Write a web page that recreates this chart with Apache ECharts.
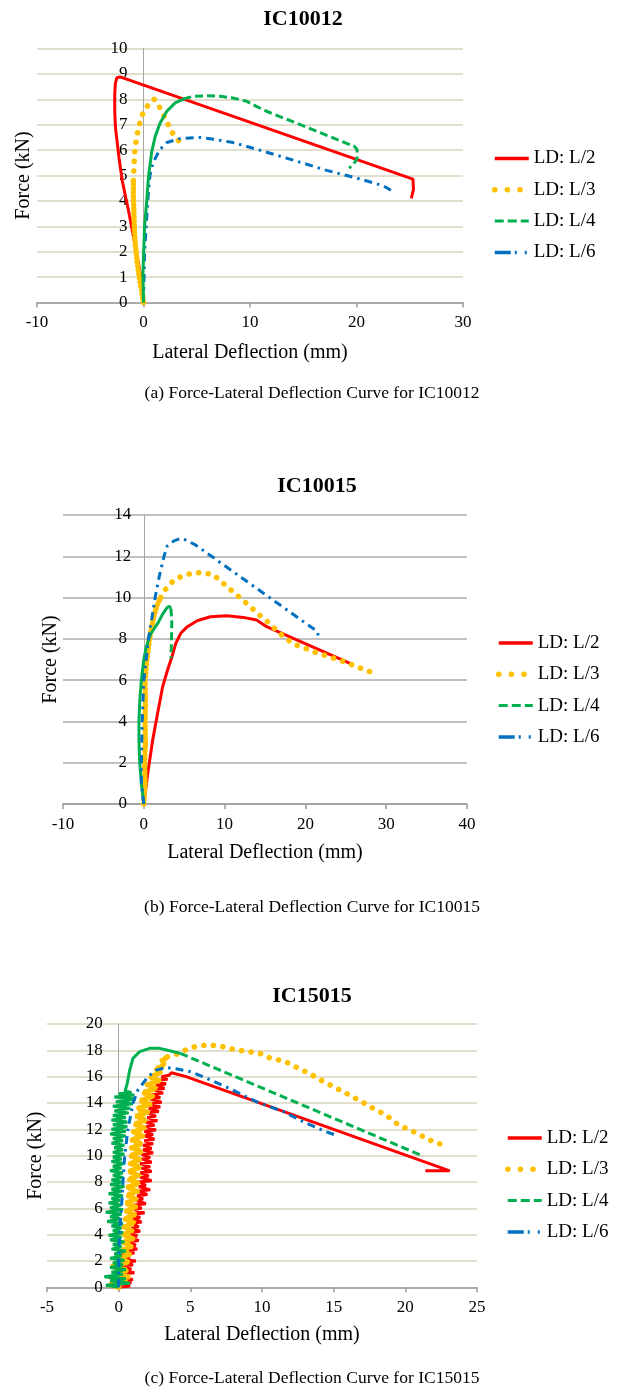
<!DOCTYPE html>
<html>
<head>
<meta charset="utf-8">
<script src="https://cdn.jsdelivr.net/npm/echarts@6/dist/echarts.min.js"></script>
<style>
  html, body { margin: 0; padding: 0; background: #fff; }
  #chart { width: 617px; height: 1387px; }
</style>
</head>
<body>
<div id="chart"></div>
<script>
// ---- labels ----
const SERIES_NAMES = ['LD: L/2', 'LD: L/3', 'LD: L/4', 'LD: L/6'];
const TITLES = ['IC10012', 'IC10015', 'IC15015'];
const CAPTIONS = [
  '(a) Force-Lateral Deflection Curve for IC10012',
  '(b) Force-Lateral Deflection Curve for IC10015',
  '(c) Force-Lateral Deflection Curve for IC15015'
];
const X_NAME = 'Lateral Deflection (mm)';
const Y_NAME = 'Force (kN)';

// ---- tick labels ----
const X_TICKS_A = [-10, 0, 10, 20, 30];
const Y_TICKS_A = [0, 1, 2, 3, 4, 5, 6, 7, 8, 9, 10];
const X_TICKS_B = [-10, 0, 10, 20, 30, 40];
const Y_TICKS_B = [0, 2, 4, 6, 8, 10, 12, 14];
const X_TICKS_C = [-5, 0, 5, 10, 15, 20, 25];
const Y_TICKS_C = [0, 2, 4, 6, 8, 10, 12, 14, 16, 18, 20];

// ---- IC10012: [deflection mm, force kN] ----
const A_L2 = [[0,0],[-0.1,0.7],[-0.9,2.5],[-1.4,3.6],[-2.0,4.8],[-2.3,5.7],[-2.55,6.6],[-2.6,6.75],
  [-2.65,7.0],[-2.7,7.5],[-2.7,8.2],[-2.65,8.6],[-2.5,8.85],[-2.2,8.88],[25.3,4.86],[25.35,4.45],[25.15,4.1]];
const A_L3_DENSE = [[0,0],[-0.2,0.5],[-0.4,1.0],[-0.6,1.6],[-0.75,2.2],[-0.85,2.8],[-0.9,3.5],[-0.95,4.2],[-0.95,4.8]];
const A_L3 = [[-0.95,4.8],[-0.9,5.3],[-0.85,5.8],[-0.75,6.2],[-0.6,6.6],[-0.4,7.0],[-0.1,7.4],[0.4,7.75],
  [1.0,8.0],[1.5,7.7],[2.1,7.2],[2.6,6.75],[3.1,6.45],[3.45,6.3],[3.45,6.1]];
const A_L4_DENSE = [[0,0],[-0.05,1.15],[0.1,3.0],[0.31,4.04],[0.47,4.96],[0.78,5.95],[1.1,6.54],[1.56,7.07],
  [2.19,7.53],[2.97,7.86],[3.75,8.01]];
const A_L4 = [[3.75,8.01],[4.7,8.12],[5.94,8.14],[7.19,8.12],[8.4,8.05],[9.7,7.92],[10.6,7.72],[11.56,7.53],
  [19.84,6.14],[20.06,6.01],[20.06,5.68],[19.75,5.46],[19.3,5.29]];
const A_L6 = [[0,0],[0.05,1],[0.1,2],[0.25,3],[0.4,4],[0.6,5],[0.9,5.5],[1.5,6],[2.2,6.3],[3.4,6.45],
  [5.3,6.5],[6.25,6.45],[8.4,6.3],[10.9,6.0],[14.1,5.6],[17.2,5.2],[20,4.9],[22.5,4.6],[23.3,4.4]];

// ---- IC10015 ----
const B_L2 = [[0,0],[0.49,1.49],[1.1,3.1],[1.71,4.4],[2.33,5.68],[2.94,6.49],[3.43,7.06],[3.96,7.78],
  [4.57,8.27],[5.39,8.59],[6.6,8.88],[8.24,9.07],[10.3,9.12],[12.3,9.04],[13.96,8.91],[15.2,8.59],[25.6,6.8]];
const B_L3_DENSE = [[0,0],[0.15,1],[0.1,2],[0.2,3],[0.15,4],[0.2,5],[0.15,6],[0.4,7],[0.7,8],[1.2,9],[1.6,9.6],[2.1,10]];
const B_L3 = [[2.1,10],[2.7,10.4],[3.35,10.7],[4.2,10.95],[5.2,11.1],[6.2,11.2],[7.4,11.2],[8.6,11.1],
  [9.75,10.72],[10.9,10.33],[12.0,9.96],[13.1,9.59],[14.2,9.19],[15.3,8.83],[16.3,8.46],[17.4,8.07],
  [18.65,7.73],[20.0,7.54],[21.4,7.33],[22.7,7.17],[24.2,6.98],[25.6,6.77],[26.9,6.57],[28.2,6.38],[28.9,6.25]];
const B_L4_DENSE = [[0,0],[-0.3,1],[-0.5,2],[-0.6,3],[-0.6,4],[-0.5,5],[-0.3,6],[0,7],[0.3,7.6],[0.8,8.2],
  [1.3,8.5],[1.8,8.8],[2.33,9.2],[2.86,9.5],[3.14,9.59],[3.35,9.48]];
const B_L4 = [[3.35,9.48],[3.47,8.9],[3.43,7.94],[3.35,7.06]];
const B_L6 = [[0,0],[-0.3,1],[-0.3,2],[-0.25,3],[-0.2,4],[-0.1,5],[0,6],[0.3,7],[0.57,8],[1.0,9],[1.4,10],
  [1.9,11],[2.5,12],[2.9,12.5],[3.75,12.75],[4.57,12.87],[5.2,12.79],[6.4,12.55],[21.5,8.35],[21.6,8.1]];

// ---- IC15015 (noisy loading branch) ----
const C_L2 = [[0,0],[0.8,0.1],[-0.6,0.25],[0.9,0.35],[-0.2,0.5],[1.0,0.6],[-0.7,0.75],[0.7,0.85],[0.0,1.0],[1.1,1.1],
  [0.1,1.3],[0.9,1.4],[-0.5,1.6],[1.0,1.7],[0.4,1.9],[1.2,2.0],[-0.3,2.2],[0.8,2.3],[0.2,2.5],[1.1,2.6],
  [0.5,2.8],[1.3,2.9],[0.6,3.1],[1.2,3.2],[0.7,3.45],[1.4,3.55],[0.6,3.8],[1.3,3.9],[0.8,4.15],[1.5,4.25],
  [0.9,4.5],[1.4,4.6],[0.9,4.85],[1.6,4.95],[1.0,5.2],[1.5,5.3],[1.0,5.55],[1.8,5.65],[1.1,5.9],[1.6,6.0],
  [1.1,6.25],[1.9,6.35],[1.2,6.6],[1.7,6.7],[1.3,6.95],[2.0,7.05],[1.3,7.3],[2.2,7.4],[1.4,7.65],[1.9,7.75],
  [1.4,8.0],[2.3,8.1],[1.5,8.35],[2.1,8.45],[1.5,8.7],[2.3,8.8],[1.6,9.05],[2.2,9.15],[1.5,9.4],[2.3,9.5],
  [1.6,9.75],[2.2,9.85],[1.6,10.1],[2.4,10.2],[1.7,10.45],[2.3,10.55],[1.7,10.8],[2.4,10.9],[1.8,11.15],[2.5,11.25],
  [1.8,11.5],[2.4,11.6],[1.8,11.85],[2.6,11.95],[1.9,12.2],[2.5,12.3],[1.9,12.55],[2.7,12.65],[2.0,12.9],[2.6,13.0],
  [2.0,13.25],[2.8,13.35],[2.1,13.6],[2.9,13.7],[2.2,13.95],[3.0,14.05],[2.2,14.3],[2.9,14.4],[2.3,14.65],[3.1,14.75],
  [2.4,15.0],[3.2,15.1],[2.6,15.35],[3.3,15.45],[2.7,15.7],[3.4,15.8],[3.0,16.0],[3.5,16.1],
  [3.7,16.3],[4.7,16.0],[23.1,8.85],[21.4,8.85]];
const C_L3_DENSE = [[0,0],[-0.6,0.2],[0.5,0.4],[-0.4,0.6],[0.7,0.8],[-0.2,1.0],[0.6,1.3],[-0.5,1.6],[0.7,1.9],
  [0.0,2.2],[0.8,2.5],[0.2,2.8],[0.9,3.1],[0.3,3.4],[1.0,3.7],[0.3,4.0],[0.9,4.3],[0.4,4.6],[1.1,4.9],
  [0.4,5.2],[1.1,5.5],[0.5,5.8],[1.2,6.1],[0.5,6.4],[1.2,6.7],[0.6,7.0],[1.3,7.3],[0.6,7.6],[1.4,7.9],
  [0.7,8.2],[1.4,8.5],[0.7,8.8],[1.5,9.1],[0.8,9.4],[1.5,9.7],[0.8,10.0],[1.6,10.3],[0.9,10.6],[1.6,10.9],
  [0.9,11.2],[1.7,11.5],[1.0,11.8],[1.8,12.1],[1.1,12.4],[1.9,12.7],[1.2,13.0],[2.0,13.3],[1.3,13.6],[2.2,13.9],
  [1.5,14.2],[2.4,14.5],[1.7,14.8],[2.6,15.1],[2.0,15.4],[2.8,15.7],[2.2,16.0],[2.9,16.3],[2.6,16.6],[3.2,16.9],
  [3.0,17.2],[3.4,17.5]];
const C_L3 = [[3.4,17.5],[4.3,17.8],[4.8,18.1],[5.4,18.3],[6.1,18.4],[7.0,18.35],[7.7,18.15],[8.4,18.0],
  [9.1,17.9],[9.9,17.75],[10.7,17.35],[11.5,17.2],[11.9,17.0],[12.6,16.6],[13.3,16.25],[14.0,15.8],[14.7,15.4],
  [15.4,15.0],[16.1,14.6],[16.8,14.2],[17.5,13.75],[18.2,13.35],[18.8,12.95],[19.3,12.5],[20.0,12.1],
  [20.8,11.7],[21.5,11.3],[22.2,10.95],[22.6,10.85]];
const C_L4_DENSE = [[0,0],[-0.9,0.15],[0.8,0.3],[-0.6,0.5],[0.5,0.65],[-1.0,0.8],[0.3,1.0],[-0.5,1.15],[0.5,1.35],
  [-0.6,1.5],[0.3,1.7],[-0.4,1.85],[0.4,2.05],[-0.6,2.2],[0.2,2.4],[-0.3,2.55],[0.5,2.75],[-0.5,2.9],[0.2,3.1],
  [-0.4,3.25],[0.4,3.45],[-0.6,3.6],[0.2,3.8],[-0.7,3.95],[0.3,4.15],[-0.4,4.3],[0.2,4.5],[-0.5,4.65],[0.3,4.85],
  [-0.8,5.0],[0.1,5.2],[-0.6,5.35],[0.2,5.55],[-0.9,5.7],[0.3,5.9],[-0.6,6.05],[0.2,6.25],[-0.7,6.4],[0.1,6.6],
  [-0.5,6.75],[0.3,6.95],[-0.7,7.1],[0.2,7.3],[-0.5,7.45],[0.4,7.65],[-0.6,7.8],[0.2,8.0],[-0.5,8.15],[0.3,8.35],
  [-0.4,8.5],[0.3,8.7],[-0.6,8.85],[0.2,9.05],[-0.4,9.2],[0.4,9.4],[-0.5,9.55],[0.2,9.75],[-0.4,9.9],[0.4,10.1],
  [-0.4,10.25],[0.3,10.45],[-0.3,10.6],[0.4,10.8],[-0.5,10.95],[0.3,11.15],[-0.4,11.3],[0.5,11.5],[-0.6,11.65],
  [0.5,11.85],[-0.5,12.0],[0.6,12.2],[-0.4,12.35],[0.6,12.55],[-0.5,12.7],[0.5,12.9],[-0.4,13.05],[0.7,13.25],
  [-0.3,13.4],[0.8,13.6],[-0.4,13.75],[1.0,13.95],[-0.2,14.1],[1.2,14.3],[-0.3,14.45],[1.1,14.6],[0.0,14.7],
  [0.9,14.8],[0.45,14.9],[0.6,15.5],[0.77,16.5],[1.0,17.4],
  [1.47,17.9],[2.16,18.15],[2.86,18.15],[3.56,17.97],[4.3,17.77]];
const C_L4 = [[4.3,17.77],[21.1,10.03]];
const C_L6 = [[0,0],[0,2],[0.07,4],[0.19,6],[0.3,8],[0.42,10],[0.65,12],[1.0,14],[1.35,15],[2.05,16],
  [2.63,16.5],[3.33,16.7],[4.0,16.6],[5.0,16.38],[6.1,15.9],[7.74,15.1],[9.6,14.1],[11.5,13.34],[13.1,12.46],
  [14.5,11.8],[15.3,11.5]];

// ---- line styles ----
const RED = '#ff0000', YELLOW = '#ffc000', GREEN = '#00b050', BLUE = '#0070c0';
const ST_L2 = { color: RED, width: 3 };
const ST_L3 = { color: YELLOW, width: 5.5, type: [0.1, 9.5], cap: 'round' };
const ST_L3_DENSE = { color: YELLOW, width: 5.5, type: [0.1, 4], cap: 'round' };
const ST_L4 = { color: GREEN, width: 3, type: [8, 4] };
const ST_L4_DENSE = { color: GREEN, width: 3 };
const ST_L6 = { color: BLUE, width: 3, type: [8, 5, 2.5, 5] };

const LEGEND_STYLES = [
  { color: RED, width: 3.5 },
  { color: YELLOW, width: 5.5, type: [0.1, 12.5], cap: 'round' },
  { color: GREEN, width: 3, type: [9, 4] },
  { color: BLUE, width: 3.5, type: [16, 4, 2, 8, 2, 30] }
];

const FONT = 'Liberation Serif';

function line(name, data, g, style) {
  return {
    type: 'line', name, data, xAxisIndex: g, yAxisIndex: g,
    symbol: 'none', showSymbol: false, smooth: false,
    lineStyle: style, itemStyle: { color: style.color },
    emphasis: { disabled: true }, silent: true, animation: false
  };
}

// Plot areas and their axes (fixed boxes, no automatic fitting)
const GRIDS = [
  { left: 37, top: 48.5, width: 426, height: 254 },
  { left: 63, top: 515, width: 404, height: 289 },
  { left: 47, top: 1024, width: 430, height: 263.3 }
].map(g => Object.assign(g, { containLabel: false, outerBoundsMode: 'none' }));
const X_TICKS = [X_TICKS_A, X_TICKS_B, X_TICKS_C];
const Y_TICKS = [Y_TICKS_A, Y_TICKS_B, Y_TICKS_C];
const GRID_COLORS = ['#d9d4bd', '#ababab', '#d9d4bd'];
const Y_NAME_GAP = [110, 83, 73];
const X_NAME_GAP = [40, 38.5, 37];
const Y_LABEL = [
  { margin: 16, align: 'right' },
  { margin: 21, align: 'center' },
  { margin: 16, align: 'right' }
];

const xAxis = X_TICKS.map((t, i) => ({
  type: 'value', gridIndex: i,
  min: t[0], max: t[t.length - 1], interval: t[1] - t[0],
  name: X_NAME, nameLocation: 'middle', nameGap: X_NAME_GAP[i],
  nameTextStyle: { fontFamily: FONT, fontSize: 20, color: '#000' },
  axisLine: { show: true, onZero: false, lineStyle: { color: '#9a9a9a', width: 1.5 } },
  axisTick: { show: true, length: 5, lineStyle: { color: '#9a9a9a', width: 1.5 } },
  axisLabel: { fontFamily: FONT, fontSize: 17, color: '#000', margin: 12 },
  splitLine: { show: false }
}));

// the vertical axis sits on deflection = 0: shift it right from the grid edge
const yAxis = Y_TICKS.map((t, i) => {
  const xt = X_TICKS[i];
  const zeroShift = GRIDS[i].width * (0 - xt[0]) / (xt[xt.length - 1] - xt[0]);
  return {
    type: 'value', gridIndex: i, position: 'left', offset: -zeroShift,
    min: t[0], max: t[t.length - 1], interval: t[1] - t[0],
    name: Y_NAME, nameLocation: 'middle', nameGap: Y_NAME_GAP[i],
    nameTextStyle: { fontFamily: FONT, fontSize: 20, color: '#000' },
    axisLine: { show: true, onZero: false, lineStyle: { color: '#a6a6a6', width: 1 } },
    axisTick: { show: false },
    axisLabel: { fontFamily: FONT, fontSize: 17, color: '#000', margin: Y_LABEL[i].margin, align: Y_LABEL[i].align },
    splitLine: { show: true, lineStyle: { color: GRID_COLORS[i], width: 1.5 } }
  };
});

const series = [
  line(SERIES_NAMES[0], A_L2, 0, ST_L2),
  line(SERIES_NAMES[1], A_L3, 0, ST_L3),
  line(SERIES_NAMES[2], A_L4, 0, ST_L4),
  line(SERIES_NAMES[3], A_L6, 0, ST_L6),
  line(SERIES_NAMES[1], A_L3_DENSE, 0, ST_L3_DENSE),
  line(SERIES_NAMES[2], A_L4_DENSE, 0, ST_L4_DENSE),

  line(SERIES_NAMES[0], B_L2, 1, ST_L2),
  line(SERIES_NAMES[1], B_L3_DENSE, 1, ST_L3_DENSE),
  line(SERIES_NAMES[1], B_L3, 1, ST_L3),
  line(SERIES_NAMES[2], B_L4_DENSE, 1, ST_L4_DENSE),
  line(SERIES_NAMES[2], B_L4, 1, ST_L4),
  line(SERIES_NAMES[3], B_L6, 1, ST_L6),

  line(SERIES_NAMES[0], C_L2, 2, ST_L2),
  line(SERIES_NAMES[1], C_L3_DENSE, 2, ST_L3_DENSE),
  line(SERIES_NAMES[1], C_L3, 2, ST_L3),
  line(SERIES_NAMES[2], C_L4_DENSE, 2, ST_L4_DENSE),
  line(SERIES_NAMES[2], C_L4, 2, ST_L4),
  line(SERIES_NAMES[3], C_L6, 2, ST_L6)
];

const LEGEND_POS = [
  { left: 492, top: 148 },
  { left: 496, top: 632.5 },
  { left: 505, top: 1127.5 }
];
const legend = LEGEND_POS.map(p => ({
  orient: 'vertical', left: p.left, top: p.top, padding: 0,
  itemWidth: 34, itemHeight: 14, itemGap: 10.3, selectedMode: false,
  textStyle: { fontFamily: FONT, fontSize: 19, color: '#000', lineHeight: 21 },
  data: SERIES_NAMES.map((n, k) => ({ name: n, lineStyle: LEGEND_STYLES[k], itemStyle: { opacity: 0 } }))
}));

// Chart titles and figure captions
const TITLE_POS = [[303, 19], [317, 486], [312, 996]];
const CAPTION_POS = [[312, 393], [312, 907], [312, 1378]];
const graphic = [];
TITLES.forEach((t, i) => graphic.push({
  type: 'text', silent: true,
  style: { text: t, x: TITLE_POS[i][0], y: TITLE_POS[i][1], textAlign: 'center', textVerticalAlign: 'middle',
    font: 'bold 22px "Liberation Serif"', fill: '#000' }
}));
CAPTIONS.forEach((t, i) => graphic.push({
  type: 'text', silent: true,
  style: { text: t, x: CAPTION_POS[i][0], y: CAPTION_POS[i][1], textAlign: 'center', textVerticalAlign: 'middle',
    font: '17.5px "Liberation Serif"', fill: '#000' }
}));

const chart = echarts.init(document.getElementById('chart'), null, { renderer: 'canvas' });
chart.setOption({
  backgroundColor: '#fff',
  animation: false,
  grid: GRIDS,
  xAxis, yAxis, series, legend, graphic
});
</script>
</body>
</html>
